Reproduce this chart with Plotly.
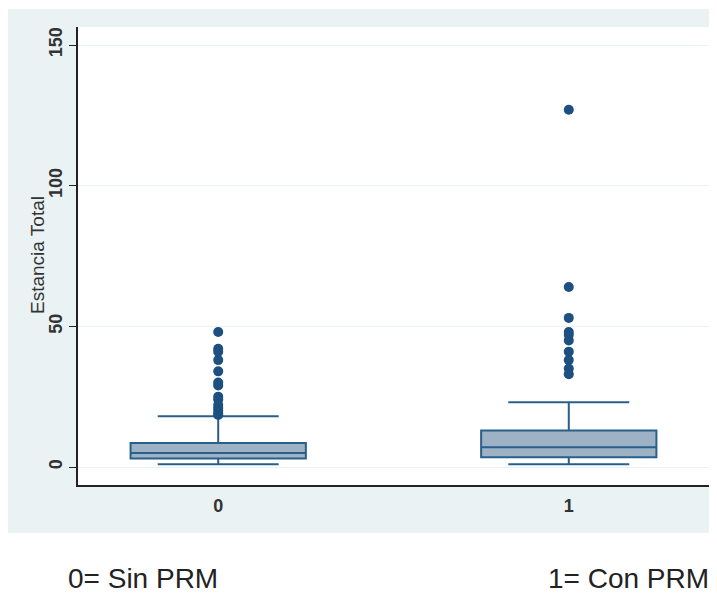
import plotly.graph_objects as go

# ---- data ----
groups = [0, 1]
tick_labels = ["0", "1"]
lower_whisker = [1, 1]
q1_vals = [3, 3.5]
median_vals = [5, 7]
q3_vals = [8.5, 13]
upper_whisker = [18, 23]
outliers_0 = [48, 42, 41, 38, 34, 30, 29, 25, 24, 22, 21, 20, 19, 18.5]
outliers_1 = [127, 64, 53, 48, 47, 45, 41, 38, 35, 33]
y_ticks = [0, 50, 100, 150]
y_title = "Estancia Total"
footer_labels = ["0= Sin PRM", "1= Con PRM"]

LINE = "#2a5f8a"
FILL = "#9db2c5"
MARK = "#1d5080"
BG = "#eaf2f3"

fig = go.Figure()
for i, g in enumerate(groups):
    fig.add_trace(go.Box(
        x=[g], q1=[q1_vals[i]], median=[median_vals[i]], q3=[q3_vals[i]],
        lowerfence=[lower_whisker[i]], upperfence=[upper_whisker[i]],
        width=0.5, whiskerwidth=0.69, fillcolor=FILL,
        line=dict(color=LINE, width=2), boxpoints=False, showlegend=False,
        hoverinfo="skip",
    ))
for g, outs in zip(groups, [outliers_0, outliers_1]):
    fig.add_trace(go.Scatter(
        x=[g] * len(outs), y=outs, mode="markers",
        marker=dict(color=MARK, size=10, line=dict(width=0)),
        showlegend=False, hoverinfo="skip",
    ))

# page is offset by the browser's default 8px body margin
OFF = 8
PAGE_W, PAGE_H = 717, 596
W, H = PAGE_W - OFF, PAGE_H - OFF
# plot area in page pixels
PL, PR, PT, PB = 78, 709, 27, 485
L, R, T, B = PL - OFF, (PAGE_W - PR), PT - OFF, (PAGE_H - PB)
pw, ph = W - L - R, H - T - B

def px(x):  # page x -> paper
    return (x - PL) / pw

def py(y):  # page y -> paper
    return (PB - y) / ph

fig.update_layout(
    width=W, height=H,
    margin=dict(l=L, r=R, t=T, b=B, pad=0),
    paper_bgcolor="white", plot_bgcolor="white",
    font=dict(family="Liberation Sans, Arial, sans-serif", color="#222"),
    shapes=[
        dict(type="rect", xref="paper", yref="paper", layer="below",
             x0=px(8), x1=px(PAGE_W + 2), y0=py(533), y1=py(9),
             fillcolor=BG, line=dict(width=0)),
        dict(type="rect", xref="paper", yref="paper", layer="below",
             x0=0, x1=1, y0=0, y1=1,
             fillcolor="white", line=dict(width=0)),
    ],
    xaxis=dict(
        range=[-0.4, 1.4], tickmode="array", tickvals=groups, ticktext=tick_labels,
        showgrid=False, zeroline=False, showline=True, linecolor="#222", linewidth=1.6,
        ticks="outside", ticklen=4, tickcolor="rgba(0,0,0,0)",
        tickfont=dict(size=18, color="#333", weight="bold"),
    ),
    yaxis=dict(
        range=[-6.4, 156.4], tickmode="array", tickvals=y_ticks,
        showgrid=True, gridcolor=BG, gridwidth=1, zeroline=False,
        showline=True, linecolor="#222", linewidth=1.6,
        ticks="outside", ticklen=7, tickcolor="#222", tickwidth=1.4,
        tickangle=-90, tickfont=dict(size=18, color="#333", weight="bold"),
    ),
    annotations=[
        dict(text=y_title, xref="paper", yref="paper", x=px(37), y=py(255),
             xanchor="center", yanchor="middle", textangle=-90, showarrow=False,
             font=dict(size=19, color="#333")),
        dict(text=footer_labels[0], xref="paper", yref="paper", x=px(66), y=py(578),
             xanchor="left", yanchor="middle", showarrow=False,
             font=dict(size=28, color="#222")),
        dict(text=footer_labels[1], xref="paper", yref="paper", x=px(711), y=py(578),
             xanchor="right", yanchor="middle", showarrow=False,
             font=dict(size=28, color="#222")),
    ],
)

fig.write_html("out.html")
